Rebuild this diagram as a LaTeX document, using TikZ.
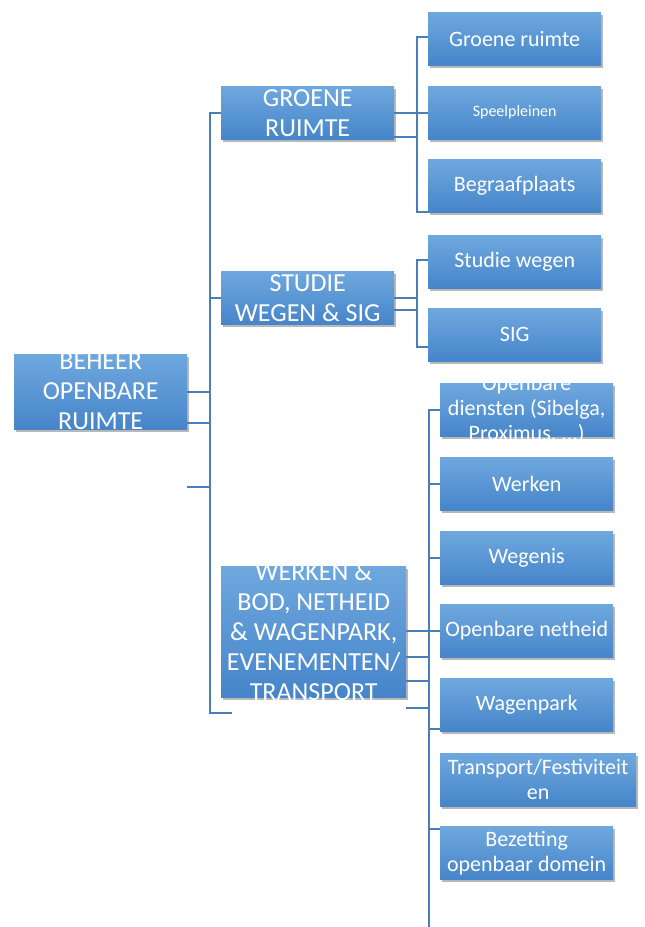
\documentclass[tikz,border=0pt]{standalone}
\usepackage{fontspec}
\setmainfont{Carlito}
\usetikzlibrary{shadows}
\definecolor{boxtop}{HTML}{6FA8DE}
\definecolor{boxbot}{HTML}{4685CA}
\definecolor{linec}{HTML}{4A7EB6}
\begin{document}
\begin{tikzpicture}[x=1pt,y=-1pt,
  box/.style={rectangle, inner sep=0pt, anchor=north west, top color=boxtop, bottom color=boxbot, draw=none,
    drop shadow={shadow xshift=1.5pt, shadow yshift=-3pt, fill=black, opacity=0.28}},
  big/.style={text=white, align=center, inner sep=0pt, font=\fontsize{26}{30}\selectfont},
  small/.style={text=white, align=center, inner sep=0pt, font=\fontsize{22}{25}\selectfont},
  tiny/.style={text=white, align=center, inner sep=0pt, font=\fontsize{16}{19}\selectfont},
  conn/.style={draw=linec, line width=2pt}]
\fill[white] (0,0) rectangle (645,927);
\useasboundingbox (0,0) rectangle (645,927);

% boxes (placed first so their names exist; connectors drawn on background afterwards)
\begin{scope}
\node[box, minimum width=173pt, minimum height=75pt] (root) at (14,354) {};
\node[box, minimum width=173pt, minimum height=53pt] (gr) at (221,86) {};
\node[box, minimum width=173pt, minimum height=53pt] (sw) at (221,271) {};
\node[box, minimum width=185pt, minimum height=131pt] (wk) at (221,566) {};
\node[box, minimum width=173pt, minimum height=53pt] (n1) at (428,12) {};
\node[box, minimum width=173pt, minimum height=53pt] (n2) at (428,86) {};
\node[box, minimum width=173pt, minimum height=53pt] (n3) at (428,159) {};
\node[box, minimum width=173pt, minimum height=53pt] (n4) at (428,235) {};
\node[box, minimum width=173pt, minimum height=53pt] (n5) at (428,308) {};
\node[box, minimum width=173pt, minimum height=53pt] (n6) at (440,383) {};
\node[box, minimum width=173pt, minimum height=53pt] (n7) at (440,457) {};
\node[box, minimum width=173pt, minimum height=53pt] (n8) at (440,531) {};
\node[box, minimum width=173pt, minimum height=53pt] (n9) at (440,604) {};
\node[box, minimum width=173pt, minimum height=53pt] (n10) at (440,678) {};
\node[box, minimum width=196pt, minimum height=53pt] (n11) at (440,753) {};
\node[box, minimum width=173pt, minimum height=53pt] (n12) at (440,826) {};
\end{scope}

% helper coordinates
\coordinate (s1) at (210,112);
\coordinate (s1bot) at (210,713);
\coordinate (s1end) at (232,713);
\coordinate (y423) at (0,423);
\coordinate (stub) at (187,487);
\coordinate (s2top) at (417,37);
\coordinate (s2bot) at (417,212);
\coordinate (y137) at (0,137);
\coordinate (s3top) at (417,260);
\coordinate (s3bot) at (417,347);
\coordinate (y310) at (0,310);
\coordinate (s4) at (429,0);
\coordinate (s4bot) at (429,927);
\coordinate (y657) at (0,657);
\coordinate (y681) at (0,681);
\coordinate (y708) at (0,708);
\coordinate (y729) at (0,729);
\coordinate (y829) at (0,829);

% connectors
\draw[conn] (gr.west) -- (gr.west -| s1) -- (s1bot) -- (s1end);
\draw[conn] (sw.west) -- (sw.west -| s1);
\draw[conn] (root.east) -- (root.east -| s1);
\draw[conn] (root.east |- y423) -- (s1 |- y423);
\draw[conn] (stub) -- (stub -| s1);

\draw[conn] (n1.west |- s2top) -- (s2top) -- (s2bot) -- (n3.west |- s2bot);
\draw[conn] (gr.east) -- (n2.west);
\draw[conn] (gr.east |- y137) -- (s2top |- y137);

\draw[conn] (n4.west |- s3top) -- (s3top) -- (s3bot) -- (n5.west |- s3bot);
\draw[conn] (sw.east) -- (sw.east -| s3top);
\draw[conn] (sw.east |- y310) -- (s3top |- y310);

\draw[conn] (n6.west) -- (n6.west -| s4) -- (s4bot);
\draw[conn] (n7.west) -- (n7.west -| s4);
\draw[conn] (n8.west) -- (n8.west -| s4);
\draw[conn] (wk.east |- n9.west) -- (n9.west);
\draw[conn] (wk.east |- y657) -- (s4 |- y657);
\draw[conn] (wk.east |- y681) -- (s4 |- y681);
\draw[conn] (wk.east |- y708) -- (s4 |- y708);
\draw[conn] (s4 |- y729) -- (n10.west |- y729);
\draw[conn] (s4 |- y829) -- (n12.west |- y829);

% texts
\node[big] (roott) at (root.center) {BEHEER\\OPENBARE\\RUIMTE};
\node[big] (grt) at (gr.center) {GROENE\\RUIMTE};
\node[big] (swt) at (sw.center) {STUDIE\\WEGEN \& SIG};
\node[big] (wkt) at (wk.center) {WERKEN \&\\BOD, NETHEID\\\& WAGENPARK,\\EVENEMENTEN/\\TRANSPORT};
\node[small] (n1t) at (n1.center) {Groene ruimte};
\node[tiny] (n2t) at (n2.center) {Speelpleinen};
\node[small] (n3t) at (n3.center) {Begraafplaats};
\node[small] (n4t) at (n4.center) {Studie wegen};
\node[small] (n5t) at (n5.center) {SIG};
\node[small] (n6t) at (n6.center) {Openbare\\diensten (Sibelga,\\Proximus, ...)};
\node[small] (n7t) at (n7.center) {Werken};
\node[small] (n8t) at (n8.center) {Wegenis};
\node[small] (n9t) at (n9.center) {Openbare netheid};
\node[small] (n10t) at (n10.center) {Wagenpark};
\node[small] (n11t) at (n11.center) {Transport/Festiviteit\\en};
\node[small] (n12t) at (n12.center) {Bezetting\\openbaar domein};
\end{tikzpicture}
\end{document}
